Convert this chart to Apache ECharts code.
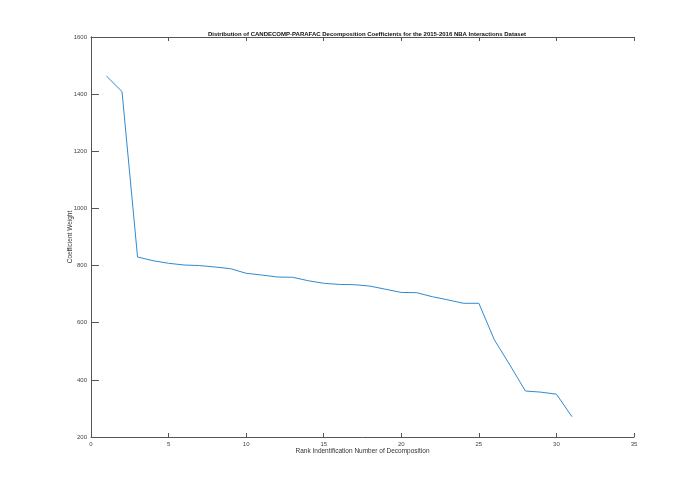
<!DOCTYPE html>
<html><head><meta charset="utf-8">
<script src="https://cdn.jsdelivr.net/npm/echarts@6/dist/echarts.min.js"></script>
<style>html,body{margin:0;padding:0;background:#fff}#c{width:700px;height:490px}</style>
</head><body><div id="c"></div>
<script>
const ranks = [1,2,3,4,5,6,7,8,9,10,11,12,13,14,15,16,17,18,19,20,21,22,23,24,25,26,27,28,29,30,31];
const weights = [1463,1409,830,817,808,802,800,795,789,773,767,760,759,747,738,734,733,728,717,706,705,691,680,668,668,540,452,361,357,350,271];
const titleText = 'Distribution of CANDECOMP-PARAFAC Decomposition Coefficients for the 2015-2016 NBA Interactions Dataset';
const xName = 'Rank Indentification Number of Decomposition';
const yName = 'Coefficient Weight';

const axisCol = '#555';
const lblFont = {fontFamily:'Liberation Sans, Arial, sans-serif', fontSize:6, color:'#444'};
const chart = echarts.init(document.getElementById('c'), null, {renderer:'canvas'});
const baseAxisLine = {show:true, lineStyle:{color:axisCol, width:1}};
const noTick = {show:false};
const tickOnly = (extra) => Object.assign({
  type:'value', axisLine:{show:false}, axisLabel:{show:false}, splitLine:{show:false},
  axisTick:{show:true, length:4, lineStyle:{color:axisCol}}, offset:-4, gridIndex:1
}, extra);
const gridRect = {left:91, right:66, top:37, bottom:53, containLabel:false};
chart.setOption({
  animation:false,
  backgroundColor:'#fff',
  title:{text:titleText, left:362, top:26, textAlign:'center',
    textStyle:{fontFamily:'Liberation Sans, Arial, sans-serif', fontSize:6, fontWeight:'bold', color:'#111'}},
  grid:[gridRect, Object.assign({}, gridRect)],
  xAxis:[{type:'value', min:0, max:35, interval:5, position:'bottom', gridIndex:0,
      name:xName, nameLocation:'middle', nameGap:11, nameMoveOverlap:false,
      nameTextStyle:Object.assign({}, lblFont, {fontSize:6.5, color:'#333'}),
      axisLine:baseAxisLine, axisTick:noTick,
      axisLabel:Object.assign({margin:4}, lblFont), splitLine:{show:false}},
    {type:'value', min:0, max:35, interval:5, position:'top', gridIndex:0,
      axisLine:baseAxisLine, axisTick:noTick,
      axisLabel:{show:false}, splitLine:{show:false}},
    tickOnly({min:0, max:35, interval:5, position:'bottom'}),
    tickOnly({min:0, max:35, interval:5, position:'top'})],
  yAxis:[{type:'value', min:200, max:1600, interval:200, position:'left', gridIndex:0,
      name:yName, nameLocation:'middle', nameGap:17, nameRotate:90, nameMoveOverlap:false,
      nameTextStyle:Object.assign({}, lblFont, {fontSize:6.5, color:'#333'}),
      axisLine:baseAxisLine, axisTick:noTick,
      axisLabel:Object.assign({margin:4, formatter:v=>String(v)}, lblFont), splitLine:{show:false}},
    {type:'value', min:200, max:1600, interval:200, position:'right', gridIndex:0,
      axisLine:baseAxisLine, axisTick:noTick,
      axisLabel:{show:false}, splitLine:{show:false}},
    tickOnly({min:200, max:1600, interval:200, position:'left'}),
    tickOnly({min:200, max:1600, interval:200, position:'right'})],
  series:[{type:'line', data:ranks.map((r,i)=>[r, weights[i]]), symbol:'none',
    lineStyle:{color:'#2f8ad0', width:1}, xAxisIndex:0, yAxisIndex:0}]
});
</script></body></html>
